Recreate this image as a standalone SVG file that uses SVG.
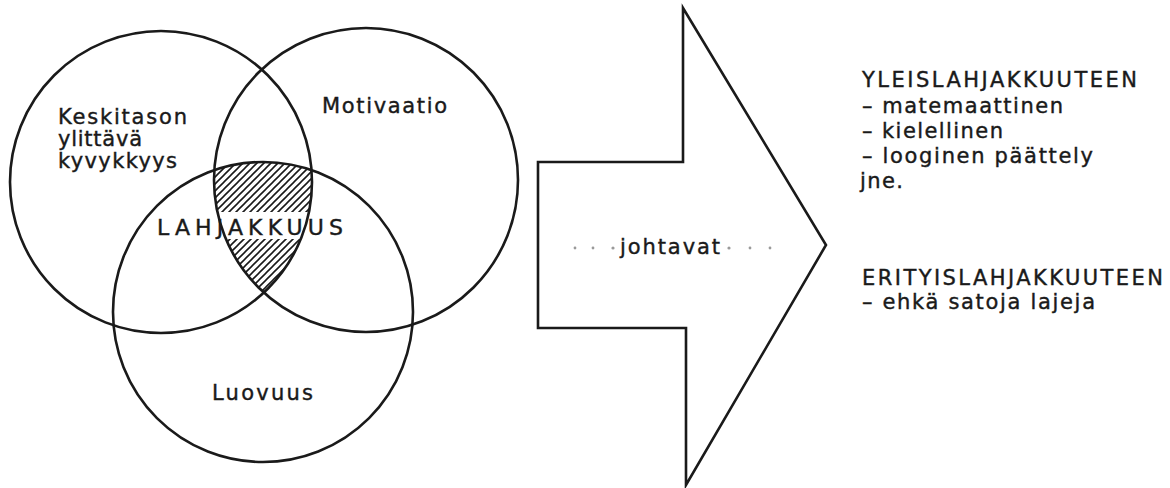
<svg xmlns="http://www.w3.org/2000/svg" width="1170" height="488" viewBox="0 0 1170 488">
  <style>
    .ring { fill: none; stroke: #1a1a1a; stroke-width: 2.6; }
    .lbl { font-family: "DejaVu Sans", "Open Sans", "Liberation Sans", sans-serif; font-size: 21px; fill: #1a1a1a; stroke: #1a1a1a; stroke-width: 0.4; }
    .big { font-size: 22px; }
    .dot { fill: #9a9a9a; }
  </style>
  <defs>
    <pattern id="hatch" patternUnits="userSpaceOnUse" width="7" height="7">
      <path d="M-1,1 l2,-2 M0,7 l7,-7 M6,8 l2,-2" stroke="#1a1a1a" stroke-width="1.6"/>
    </pattern>
    <clipPath id="clipA"><circle cx="161" cy="182" r="151"/></clipPath>
    <clipPath id="clipB"><circle cx="366" cy="180" r="152"/></clipPath>
    <clipPath id="clipC"><circle cx="263" cy="312" r="150"/></clipPath>
  </defs>
  <rect width="1170" height="488" fill="#ffffff"/>

  <g id="hatched-intersection" clip-path="url(#clipA)">
    <g clip-path="url(#clipB)">
      <g clip-path="url(#clipC)">
        <rect x="150" y="150" width="220" height="62" fill="url(#hatch)"/>
        <rect x="150" y="239" width="220" height="70" fill="url(#hatch)"/>
      </g>
    </g>
  </g>

  <g id="circle-kyvykkyys">
    <circle class="ring" cx="161" cy="182" r="151"/>
    <text class="lbl" x="58" y="124" textLength="129" lengthAdjust="spacing">Keskitason</text>
    <text class="lbl" x="58" y="146" textLength="84" lengthAdjust="spacing">ylittävä</text>
    <text class="lbl" x="58" y="168" textLength="119" lengthAdjust="spacing">kyvykkyys</text>
  </g>

  <g id="circle-motivaatio">
    <circle class="ring" cx="366" cy="180" r="152"/>
    <text class="lbl" x="322" y="113" textLength="125" lengthAdjust="spacing">Motivaatio</text>
  </g>

  <g id="circle-luovuus">
    <circle class="ring" cx="263" cy="312" r="150"/>
    <text class="lbl" x="212" y="400" textLength="101" lengthAdjust="spacing">Luovuus</text>
  </g>

  <g id="lahjakkuus">
    <text class="lbl big" x="157" y="235" textLength="186" lengthAdjust="spacing">LAHJAKKUUS</text>
  </g>

  <g id="connectors">
    <g id="arrow">
      <polygon class="ring" points="683,8 826,245 686,485 686,328 538,328 538,162 683,162"/>
      <circle class="dot" cx="575" cy="248" r="1.4"/>
      <circle class="dot" cx="593" cy="248" r="1.4"/>
      <circle class="dot" cx="613" cy="248" r="1.6"/>
      <circle class="dot" cx="729" cy="248" r="1.6"/>
      <circle class="dot" cx="750" cy="248" r="1.4"/>
      <circle class="dot" cx="770" cy="248" r="1.4"/>
      <text class="lbl" x="620" y="254" textLength="100" lengthAdjust="spacing">johtavat</text>
    </g>
  </g>

  <g id="yleislahjakkuuteen">
    <text class="lbl" x="862" y="87" textLength="275" lengthAdjust="spacing">YLEISLAHJAKKUUTEEN</text>
    <text class="lbl" x="862" y="113" textLength="201" lengthAdjust="spacing">– matemaattinen</text>
    <text class="lbl" x="862" y="138" textLength="141" lengthAdjust="spacing">– kielellinen</text>
    <text class="lbl" x="862" y="163" textLength="231" lengthAdjust="spacing">– looginen päättely</text>
    <text class="lbl" x="860" y="188" textLength="43" lengthAdjust="spacing">jne.</text>
  </g>

  <g id="erityislahjakkuuteen">
    <text class="lbl" x="862" y="285" textLength="301" lengthAdjust="spacing">ERITYISLAHJAKKUUTEEN</text>
    <text class="lbl" x="862" y="309" textLength="233" lengthAdjust="spacing">– ehkä satoja lajeja</text>
  </g>
</svg>
